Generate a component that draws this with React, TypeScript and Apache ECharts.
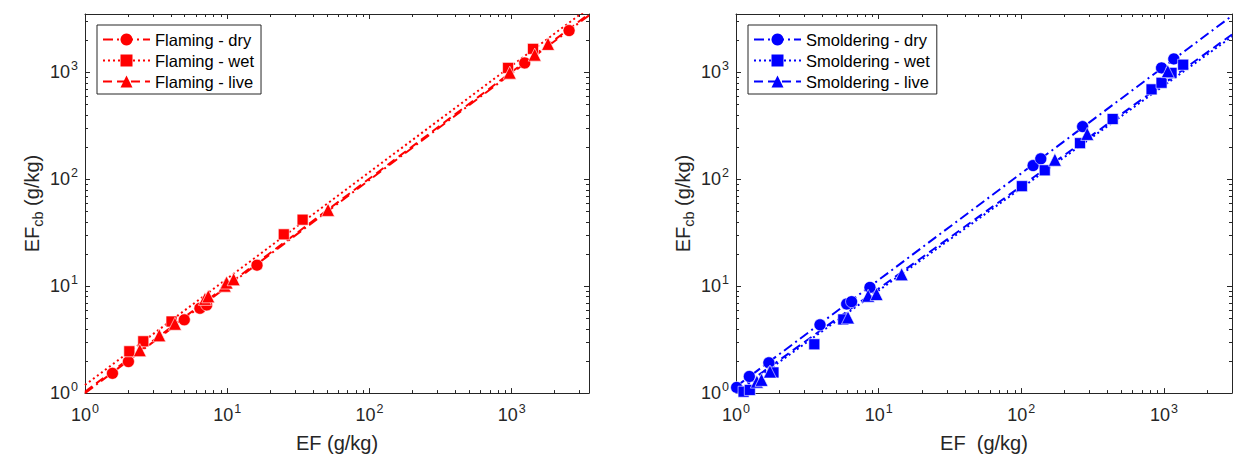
import React, { useEffect, useRef } from "react";
import * as echarts from "echarts";

// ---------- data ----------
const majorTicks = [1, 10, 100, 1000];
const leftXMax = 3500;
const rightXMax = 3000;
const yMax = 3500;

const flamingDry = [[1.56, 1.53], [2.02, 1.97], [4.99, 4.84], [6.43, 6.21], [7.17, 6.67], [16.2, 15.7], [1236, 1220], [2535, 2449]];
const flamingWet = [[2.05, 2.46], [2.57, 3.05], [4.06, 4.67], [25, 30.5], [33.9, 41.8], [944, 1097], [1414, 1652]];
const flamingLive = [[2.43, 2.52], [3.33, 3.47], [4.29, 4.45], [6.97, 7.6], [7.36, 8.03], [9.6, 10.1], [9.9, 10.8], [11.1, 11.6], [51.2, 51.6], [970, 990], [1453, 1459], [1803, 1840]];

const flamingDryFit = [[1, 1.0], [3500, 3400]];
const flamingWetFit = [[1, 1.19], [3500, 4000]];
const flamingLiveFit = [[1, 1.03], [3500, 3500]];

const smolderingDry = [[1.01, 1.13], [1.24, 1.43], [1.7, 1.92], [3.88, 4.35], [5.97, 6.81], [6.46, 7.16], [8.69, 9.73], [121, 134], [137, 155], [269, 310], [962, 1097], [1173, 1331]];
const smolderingWet = [[1.13, 1.03], [1.25, 1.07], [1.83, 1.56], [3.54, 2.86], [5.65, 4.88], [101, 86], [146, 121], [258, 217], [437, 365], [819, 691], [962, 796], [1130, 985], [1364, 1175]];
const smolderingLive = [[1.4, 1.28], [1.51, 1.33], [1.73, 1.59], [6.1, 5.1], [8.44, 8.13], [9.67, 8.43], [14.5, 12.9], [172, 152], [290, 265], [1065, 1023]];

const smolderingDryFit = [[1, 1.15], [3000, 3370]];
const smolderingWetFit = [[1, 1.0], [3000, 2150]];
const smolderingLiveFit = [[1, 1.04], [3000, 2250]];

const flamingNames = ["Flaming - dry", "Flaming - wet", "Flaming - live"];
const smolderingNames = ["Smoldering - dry", "Smoldering - wet", "Smoldering - live"];

// ---------- styles ----------
const FONT = "'Liberation Sans', Arial, Helvetica, sans-serif";
const AXIS_COLOR = "#262626";
const RED = "#ff0000";
const BLUE = "#0000ff";
const DASH_DOT = [10, 4, 2, 4];
const DOTTED = [2, 3];
const DASHED = [9, 5];

function minorValues(max: number) {
  const out: number[] = [];
  for (let d = 1; d <= 1000; d *= 10) {
    for (let k = 2; k <= 9; k++) {
      const v = k * d;
      if (v < max) out.push(v);
    }
  }
  return out;
}

const tickFormatter = (v: number) => {
  const e = Math.log10(v);
  if (Math.abs(e - Math.round(e)) > 1e-6) return "";
  return `{b|10}{sup|${Math.round(e)}}`;
};

const labelRich = {
  b: { fontSize: 18, fontFamily: FONT, color: AXIS_COLOR, lineHeight: 18 },
  sup: { fontSize: 12.5, fontFamily: FONT, color: AXIS_COLOR, lineHeight: 12, padding: [0, 0, 13, 1] },
};

function logAxis(gridIndex: number, max: number, position: string, showLabel: boolean, isX: boolean) {
  return {
    type: "log",
    logBase: 10,
    gridIndex,
    min: 1,
    max,
    position,
    axisLine: { show: true, onZero: false, lineStyle: { color: AXIS_COLOR, width: 1 } },
    axisTick: { show: true, inside: true, length: 5, customValues: majorTicks, lineStyle: { color: AXIS_COLOR, width: 1 } },
    axisLabel: showLabel
      ? {
          show: true,
          formatter: tickFormatter,
          showMaxLabel: false,
          hideOverlap: false,
          fontSize: 18,
          fontFamily: FONT,
          color: AXIS_COLOR,
          rich: labelRich,
          margin: isX ? 13 : 7,
        }
      : { show: false },
    splitLine: { show: false },
    minorTick: { show: false },
  };
}

function minorTickSeries(xIdx: number, yIdx: number, xMax: number) {
  const mx = minorValues(xMax);
  const my = minorValues(yMax);
  return {
    type: "custom",
    xAxisIndex: xIdx,
    yAxisIndex: yIdx,
    silent: true,
    clip: false,
    z: 10,
    data: [[1, 1]],
    renderItem: (_params: any, api: any) => {
      const bl = api.coord([1, 1]);
      const tr = api.coord([xMax, yMax]);
      const children: any[] = [];
      const st = { stroke: AXIS_COLOR, lineWidth: 1 };
      mx.forEach((v) => {
        const px = Math.round(api.coord([v, 1])[0]) + 0.5;
        children.push({ type: "line", shape: { x1: px, y1: bl[1], x2: px, y2: bl[1] - 3 }, style: st });
        children.push({ type: "line", shape: { x1: px, y1: tr[1], x2: px, y2: tr[1] + 3 }, style: st });
      });
      my.forEach((v) => {
        const py = Math.round(api.coord([1, v])[1]) + 0.5;
        children.push({ type: "line", shape: { x1: bl[0], y1: py, x2: bl[0] + 3, y2: py }, style: st });
        children.push({ type: "line", shape: { x1: tr[0], y1: py, x2: tr[0] - 3, y2: py }, style: st });
      });
      return { type: "group", children };
    },
  };
}

function fitSeries(name: string, data: number[][], color: string, dash: number[], symbol: string, xIdx: number, yIdx: number) {
  return {
    type: "line",
    name,
    data,
    xAxisIndex: xIdx,
    yAxisIndex: yIdx,
    symbol,
    showSymbol: false,
    color,
    lineStyle: { color, width: 2, type: dash, cap: "butt" },
    itemStyle: { color },
    z: 2,
    clip: true,
  };
}

function pointSeries(name: string, data: number[][], color: string, symbol: string, size: number, xIdx: number, yIdx: number) {
  return {
    type: "scatter",
    name: name + " points",
    data,
    xAxisIndex: xIdx,
    yAxisIndex: yIdx,
    symbol,
    symbolSize: size,
    itemStyle: { color, borderColor: "#ffffff", borderWidth: 0.6, opacity: 1 },
    z: 3,
  };
}

function legendFor(names: string[], left: number) {
  return {
    data: names,
    orient: "vertical",
    left,
    top: 25,
    itemWidth: 47,
    itemHeight: 15,
    itemGap: 4,
    padding: [6, 7, 4, 5],
    borderColor: AXIS_COLOR,
    borderWidth: 1,
    backgroundColor: "#ffffff",
    selectedMode: false,
    textStyle: { fontSize: 16.5, color: "#000000", fontFamily: FONT },
  };
}

const nameStyle = {
  fontSize: 20,
  color: AXIS_COLOR,
  fontFamily: FONT,
};

const yNameRich = {
  sub: { fontSize: 14.5, fontFamily: FONT, color: AXIS_COLOR, lineHeight: 14, padding: [11, 0, 0, 0] },
};

function buildOption() {
  const xAxes = [
    { ...logAxis(0, leftXMax, "bottom", true, true), name: "EF (g/kg)", nameLocation: "middle", nameGap: 37, nameTextStyle: nameStyle },
    logAxis(0, leftXMax, "top", false, true),
    { ...logAxis(1, rightXMax, "bottom", true, true), name: "EF  (g/kg)", nameLocation: "middle", nameGap: 37, nameTextStyle: nameStyle },
    logAxis(1, rightXMax, "top", false, true),
  ];
  const yAxes = [
    { ...logAxis(0, yMax, "left", true, false), name: "EF{sub|cb} (g/kg)", nameLocation: "middle", nameGap: 43, nameTextStyle: { ...nameStyle, rich: yNameRich } },
    logAxis(0, yMax, "right", false, false),
    { ...logAxis(1, yMax, "left", true, false), name: "EF{sub|cb} (g/kg)", nameLocation: "middle", nameGap: 43, nameTextStyle: { ...nameStyle, rich: yNameRich } },
    logAxis(1, yMax, "right", false, false),
  ];

  const series: any[] = [
    fitSeries(flamingNames[0], flamingDryFit, RED, DASH_DOT, "circle", 0, 0),
    fitSeries(flamingNames[1], flamingWetFit, RED, DOTTED, "rect", 0, 0),
    fitSeries(flamingNames[2], flamingLiveFit, RED, DASHED, "triangle", 0, 0),
    pointSeries(flamingNames[0], flamingDry, RED, "circle", 12, 0, 0),
    pointSeries(flamingNames[1], flamingWet, RED, "rect", 11, 0, 0),
    pointSeries(flamingNames[2], flamingLive, RED, "triangle", 13, 0, 0),
    minorTickSeries(0, 0, leftXMax),

    fitSeries(smolderingNames[0], smolderingDryFit, BLUE, DASH_DOT, "circle", 2, 2),
    fitSeries(smolderingNames[1], smolderingWetFit, BLUE, DOTTED, "rect", 2, 2),
    fitSeries(smolderingNames[2], smolderingLiveFit, BLUE, DASHED, "triangle", 2, 2),
    pointSeries(smolderingNames[0], smolderingDry, BLUE, "circle", 12, 2, 2),
    pointSeries(smolderingNames[1], smolderingWet, BLUE, "rect", 11, 2, 2),
    pointSeries(smolderingNames[2], smolderingLive, BLUE, "triangle", 13, 2, 2),
    minorTickSeries(2, 2, rightXMax),
  ];

  return {
    animation: false,
    backgroundColor: "#ffffff",
    textStyle: { fontFamily: FONT },
    grid: [
      { left: 85, top: 14, width: 504, height: 381, containLabel: false },
      { left: 736, top: 14, width: 496, height: 381, containLabel: false },
    ],
    xAxis: xAxes,
    yAxis: yAxes,
    legend: [legendFor(flamingNames, 97), legendFor(smolderingNames, 748)],
    series,
  };
}

export default function App() {
  const ref = useRef<HTMLDivElement>(null);
  useEffect(() => {
    if (!ref.current) return;
    const chart = echarts.init(ref.current, undefined, { renderer: "svg" });
    chart.setOption(buildOption() as any);
    return () => chart.dispose();
  }, []);
  return (
    <div
      ref={ref}
      style={{ position: "fixed", left: 0, top: 0, width: 1233, height: 458, background: "#fff" }}
    />
  );
}
